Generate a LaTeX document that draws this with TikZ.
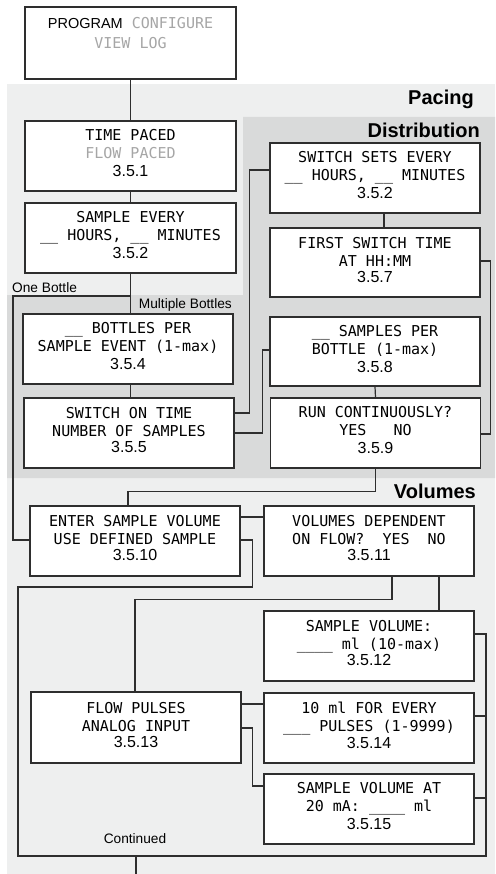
\documentclass[tikz,border=0pt]{standalone}
\usepackage{fontspec}
\setmainfont{Liberation Sans}
\newfontfamily\lcdfont{DejaVu Sans Mono}
\usepackage{xcolor}
\definecolor{paceGrey}{HTML}{EEEFEF}
\definecolor{distGrey}{HTML}{D9DADA}
\definecolor{dimText}{HTML}{A6A6A6}
\definecolor{lineGrey}{HTML}{2E2E2E}
\newcommand{\stepno}[1]{{\rmfamily\fontsize{16}{18}\selectfont #1}}
\newcommand{\dimtxt}[1]{{\color{dimText}#1}}

\begin{document}
\begin{tikzpicture}[x=1pt, y=-1pt,
    menubox/.style={draw=lineGrey, line width=1.2pt, fill=white,
        minimum width=210pt, minimum height=70pt, inner sep=0pt,
        align=center, font=\fontsize{15}{18}\lcdfont, text depth=6pt},
    link/.style={draw=lineGrey, line width=1.2pt},
    tag/.style={font=\fontsize{13.7}{16}\selectfont, inner sep=0pt},
    zonename/.style={font=\fontsize{20}{22}\selectfont\bfseries,
        anchor=east, inner sep=0pt}]
    \useasboundingbox (0,0) rectangle (495,874);
    % shaded zones
    \fill[paceGrey] (7,84) rectangle (495,874);
    \fill[distGrey] (243,117) -- (495,117) -- (495,478) -- (7,478)
        -- (7,295) -- (243,295) -- cycle;
    \node[zonename] (pacing) at (474,99) {Pacing};
    \node[zonename] (distribution) at (480,130) {Distribution};
    \node[zonename] (volumes) at (476,491) {Volumes};

    % menu screens
    \node[menubox, minimum width=211pt, minimum height=72pt, text depth=20pt]
        (program) at (130.5,43)
        {{\rmfamily\fontsize{14.5}{18}\selectfont PROGRAM} \dimtxt{CONFIGURE}\\[2pt]
         \dimtxt{VIEW LOG}};
    \node[menubox, minimum width=211pt] (timepaced) at (130.5,156)
        {TIME PACED\\ \dimtxt{FLOW PACED}\\ \stepno{3.5.1}};
    \node[menubox, minimum width=211pt] (sampleevery) at (130.5,238)
        {SAMPLE EVERY\\ \_\_ HOURS, \_\_ MINUTES\\ \stepno{3.5.2}};
    \node[menubox] (bottles) at (128,349)
        {\_\_ BOTTLES PER\\ SAMPLE EVENT (1-max)\\ \stepno{3.5.4}};
    \node[menubox] (switchon) at (129,433)
        {SWITCH ON TIME\\ NUMBER OF SAMPLES\\[-2pt] \stepno{3.5.5}};
    \node[menubox] (switchsets) at (375,178)
        {SWITCH SETS EVERY\\ \_\_ HOURS, \_\_ MINUTES\\ \stepno{3.5.2}};
    \node[menubox, minimum height=69pt] (firstswitch) at (375,262.5)
        {FIRST SWITCH TIME\\ AT HH:MM\\[-2pt] \stepno{3.5.7}};
    \node[menubox, minimum height=69pt] (samplesper) at (375,351.5)
        {\_\_ SAMPLES PER\\ BOTTLE (1-max)\\ \stepno{3.5.8}};
    \node[menubox] (runcont) at (375.5,433)
        {RUN CONTINUOUSLY?\\ YES~~~NO\\ \stepno{3.5.9}};
    \node[menubox] (entervol) at (135,541)
        {ENTER SAMPLE VOLUME\\ USE DEFINED SAMPLE\\[-2pt] \stepno{3.5.10}};
    \node[menubox] (voldep) at (369,541)
        {VOLUMES DEPENDENT\\ ON FLOW?~~YES~~NO\\[-2pt] \stepno{3.5.11}};
    \node[menubox] (samplevol) at (369,646)
        {SAMPLE VOLUME:\\ \_\_\_\_ ml (10-max)\\[-2pt] \stepno{3.5.12}};
    \node[menubox, minimum height=71pt] (flowpulses) at (136,727.5)
        {FLOW PULSES\\ ANALOG INPUT\\[-2pt] \stepno{3.5.13}};
    \node[menubox] (tenml) at (369,728)
        {10 ml FOR EVERY\\ \_\_\_ PULSES (1-9999)\\[-1pt] \stepno{3.5.14}};
    \node[menubox] (vol20) at (369,809)
        {SAMPLE VOLUME AT\\ 20 mA: \_\_\_\_ ml\\ \stepno{3.5.15}};

    % branch labels
    \node[tag, anchor=west] (onebottle) at (12,288) {One Bottle};
    \node[tag, anchor=east] (multibottles) at (232,305) {Multiple Bottles};
    \node[tag] (continued) at (135,839) {Continued};

    % connectors, pacing
    \draw[link] (program.south) -- (timepaced.north);
    \draw[link] (timepaced.south) -- (sampleevery.north);
    \draw[link] (sampleevery.south) -- (sampleevery.south |- bottles.north);
    \draw[link] (sampleevery.south |- 0,296) -| (13,540)
        -- (entervol.west |- 0,540);
    \draw[link] (sampleevery.south |- bottles.south)
        -- (sampleevery.south |- switchon.north);
    % connectors, distribution
    \draw[link] (switchon.east |- 0,413) -- ++(15,0)
        |- (switchsets.west |- 0,170);
    \draw[link] (switchon.east |- 0,433) -- ++(28,0)
        |- (samplesper.west |- 0,350);
    \draw[link] ([xshift=9pt]switchsets.south) -- ([xshift=9pt]firstswitch.north);
    \draw[link] (firstswitch.east |- 0,261) -- ++(10,0) |- (runcont.east |- 0,434);
    \draw[link] (samplesper.south) -- (runcont.north);
    \draw[link] (runcont.south) -- ++(0,23) -| ([xshift=-7pt]entervol.north);
    % connectors, volumes
    \draw[link] (entervol.east |- 0,517) -- (voldep.west |- 0,517);
    \draw[link] (entervol.east |- 0,540) -- ++(12,0) |- (18,587)
        |- (486,856) |- (samplevol.east |- 0,634);
    \draw[link] (tenml.east |- 0,716) -- ++(12,0);
    \draw[link] (vol20.east |- 0,798) -- ++(12,0);
    \draw[link] (flowpulses.south |- 0,856) -- (flowpulses.south |- 0,874);
    \draw[link] (voldep.south -| 392,0) -- ++(0,23) -| ([xshift=-1pt]flowpulses.north);
    \draw[link] (voldep.south -| 439,0) -- (samplevol.north -| 439,0);
    \draw[link] (flowpulses.east |- 0,704) -- (tenml.west |- 0,704);
    \draw[link] (flowpulses.east |- 0,728) -- ++(11,0) |- (vol20.west |- 0,786);
\end{tikzpicture}
\end{document}
